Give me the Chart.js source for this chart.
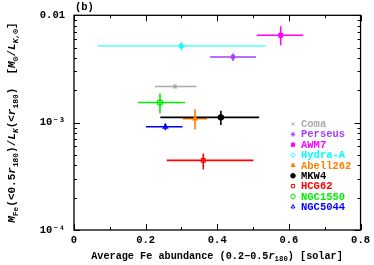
<!DOCTYPE html>
<html>
<head>
<meta charset="utf-8">
<script src="https://cdn.jsdelivr.net/npm/chart.js@4/dist/chart.umd.min.js"></script>
<style>
  html, body { margin: 0; padding: 0; background: #fff; }
  #wrap { width: 374px; height: 265px; }
</style>
</head>
<body>
<div id="wrap"><canvas id="feChart"></canvas></div>
<script>
// cluster sample, Fe abundance (x) and Fe mass-to-light ratio (y)
const clusters = ['Coma', 'Perseus', 'AWM7', 'Hydra-A', 'Abell262', 'MKW4', 'HCG62', 'NGC1550', 'NGC5044'];
const feAbund = [0.282, 0.444, 0.577, 0.300, 0.338, 0.410, 0.361, 0.240, 0.255];
const feLow   = [0.226, 0.380, 0.510, 0.066, 0.304, 0.241, 0.259, 0.179, 0.201];
const feHigh  = [0.342, 0.508, 0.640, 0.535, 0.371, 0.517, 0.501, 0.310, 0.303];
const mlRatio = [0.00217, 0.00409, 0.00652, 0.00518, 0.00109, 0.00112, 0.000445, 0.00154, 0.000915];
const mlLow   = [0.00208, 0.00376, 0.00526, 0.00472, 0.000865, 0.00095, 0.000366, 0.00122, 0.000851];
const mlHigh  = [0.00227, 0.00440, 0.00790, 0.00565, 0.00133, 0.00129, 0.000516, 0.00187, 0.000984];
const colors = ['#aaaaaa', '#a040ff', '#ff00ff', '#00ffff', '#ff8000', '#000000', '#ff0000', '#00ee00', '#0000ff'];
const markers = ['crossRot', 'star', 'rect', 'rectRot', 'triangle', 'circle', 'rect', 'circle', 'triangle'];
const filled = [false, false, true, false, true, true, false, false, false];
const xTicks = [0, 0.2, 0.4, 0.6, 0.8];
const yTicks = [1e-4, 1e-3, 1e-2];
const yTickLabels = ['10\u207b\u2074', '10\u207b\u00b3', '0.01'];

const FONT = '"Liberation Mono", "DejaVu Sans Mono", monospace';

// draws a line of text made of runs (italic / subscript) centred on 0,0
function drawRich(ctx, runs, size) {
  const fontFor = r => 'bold ' + (r.it ? 'italic ' : '') + (r.sub ? size * 0.72 : size) + 'px ' + FONT;
  let total = 0;
  runs.forEach(r => { ctx.font = fontFor(r); r.w = ctx.measureText(r.t).width; total += r.w; });
  let x = -total / 2;
  ctx.textBaseline = 'alphabetic';
  ctx.textAlign = 'left';
  runs.forEach(r => {
    ctx.font = fontFor(r);
    ctx.fillText(r.t, x, r.sub ? size * 0.6 : size * 0.35);
    x += r.w;
  });
}

const framePlugin = {
  id: 'frame',
  beforeDatasetsDraw(chart) {
    const { ctx, scales } = chart;
    // error bars
    ctx.save();
    clusters.forEach((c, i) => {
      const x = scales.x.getPixelForValue(feAbund[i]);
      const y = scales.y.getPixelForValue(mlRatio[i]);
      ctx.strokeStyle = colors[i];
      ctx.lineWidth = i === 3 ? 1 : 1.6;
      ctx.beginPath();
      ctx.moveTo(scales.x.getPixelForValue(feLow[i]), y);
      ctx.lineTo(scales.x.getPixelForValue(feHigh[i]), y);
      ctx.moveTo(x, scales.y.getPixelForValue(mlLow[i]));
      ctx.lineTo(x, scales.y.getPixelForValue(mlHigh[i]));
      ctx.stroke();
    });
    ctx.restore();
  },
  afterDraw(chart) {
    const { ctx, chartArea: a, scales } = chart;
    ctx.save();
    ctx.strokeStyle = '#000';
    ctx.lineWidth = 1.3;
    ctx.strokeRect(a.left, a.top, a.right - a.left, a.bottom - a.top);
    ctx.lineWidth = 1;
    ctx.beginPath();
    for (let v = 0; v <= 0.8001; v += 0.1) {
      const px = Math.round(scales.x.getPixelForValue(v)) + 0.5;
      const len = Math.abs(v / 0.2 - Math.round(v / 0.2)) < 0.01 ? 6 : 3;
      ctx.moveTo(px, a.bottom); ctx.lineTo(px, a.bottom - len);
      ctx.moveTo(px, a.top); ctx.lineTo(px, a.top + len);
    }
    for (let d = -4; d <= -2; d++) {
      for (let m = 1; m <= 9; m++) {
        const v = m * Math.pow(10, d);
        if (v > 0.01001) break;
        const py = Math.round(scales.y.getPixelForValue(v)) + 0.5;
        const len = m === 1 ? 6 : 3;
        ctx.moveTo(a.left, py); ctx.lineTo(a.left + len, py);
        ctx.moveTo(a.right, py); ctx.lineTo(a.right - len, py);
      }
    }
    ctx.stroke();

    // panel label
    ctx.fillStyle = '#000';
    ctx.font = 'bold 10.5px ' + FONT;
    ctx.textAlign = 'left';
    ctx.textBaseline = 'middle';
    ctx.fillText('(b)', a.left + 1, 7);

    // legend
    clusters.forEach((c, i) => {
      const y = 124 + i * 10.35;
      ctx.strokeStyle = colors[i];
      ctx.fillStyle = filled[i] ? colors[i] : 'rgba(0,0,0,0)';
      ctx.lineWidth = 1;
      Chart.helpers.drawPoint(ctx, { pointStyle: markers[i], radius: 2.3, rotation: 0, borderWidth: 1 }, 293, y);
      ctx.fillStyle = colors[i];
      ctx.font = 'bold 10.5px ' + FONT;
      ctx.textAlign = 'left';
      ctx.textBaseline = 'middle';
      ctx.fillText(c, 301, y + 0.5);
    });

    // axis titles
    ctx.fillStyle = '#000';
    ctx.save();
    ctx.translate(217, 255);
    drawRich(ctx, [
      { t: 'Average Fe abundance (0.2\u22120.5' }, { t: 'r', it: true }, { t: '180', sub: true },
      { t: ') [solar]' }
    ], 10.2);
    ctx.restore();
    ctx.save();
    ctx.translate(11, (a.top + a.bottom) / 2);
    ctx.rotate(-Math.PI / 2);
    drawRich(ctx, [
      { t: 'M', it: true }, { t: 'Fe', sub: true }, { t: '(<0.5' }, { t: 'r', it: true }, { t: '180', sub: true },
      { t: ')/' }, { t: 'L', it: true }, { t: 'K', sub: true, it: true }, { t: '(<' }, { t: 'r', it: true },
      { t: '180', sub: true }, { t: ')  [' }, { t: 'M', it: true }, { t: '\u2299', sub: true }, { t: '/' },
      { t: 'L', it: true }, { t: 'K,\u2299', sub: true, it: true }, { t: ']' }
    ], 11);
    ctx.restore();
    ctx.restore();
  }
};

new Chart(document.getElementById('feChart'), {
  type: 'scatter',
  data: {
    datasets: clusters.map((c, i) => ({
      label: c,
      data: [{ x: feAbund[i], y: mlRatio[i] }],
      pointStyle: markers[i],
      pointRadius: 2.6,
      borderWidth: 1.2,
      borderColor: colors[i],
      backgroundColor: filled[i] ? colors[i] : 'rgba(0,0,0,0)'
    }))
  },
  options: {
    responsive: true,
    maintainAspectRatio: false,
    animation: false,
    layout: { padding: { top: 15, right: 11, left: 0, bottom: 0 } },
    plugins: { legend: { display: false }, tooltip: { enabled: false } },
    scales: {
      x: {
        type: 'linear',
        min: 0,
        max: 0.8,
        afterBuildTicks: s => { s.ticks = xTicks.map(v => ({ value: v })); },
        afterFit: s => { s.height = 35; },
        grid: { display: false, drawTicks: false },
        border: { display: false },
        ticks: {
          padding: 4,
          color: '#000',
          font: { family: FONT, size: 10.5, weight: 'bold' },
          callback: v => (v === 0 ? '0' : v.toFixed(1))
        }
      },
      y: {
        type: 'logarithmic',
        min: 1e-4,
        max: 1e-2,
        afterBuildTicks: s => { s.ticks = yTicks.map(v => ({ value: v })); },
        afterFit: s => { s.width = 74; },
        grid: { display: false, drawTicks: false },
        border: { display: false },
        ticks: {
          padding: 9,
          color: '#000',
          font: { family: FONT, size: 10.5, weight: 'bold' },
          callback: v => yTickLabels[yTicks.findIndex(t => Math.abs(t - v) / t < 1e-6)]
        }
      }
    }
  },
  plugins: [framePlugin]
});
</script>
</body>
</html>
